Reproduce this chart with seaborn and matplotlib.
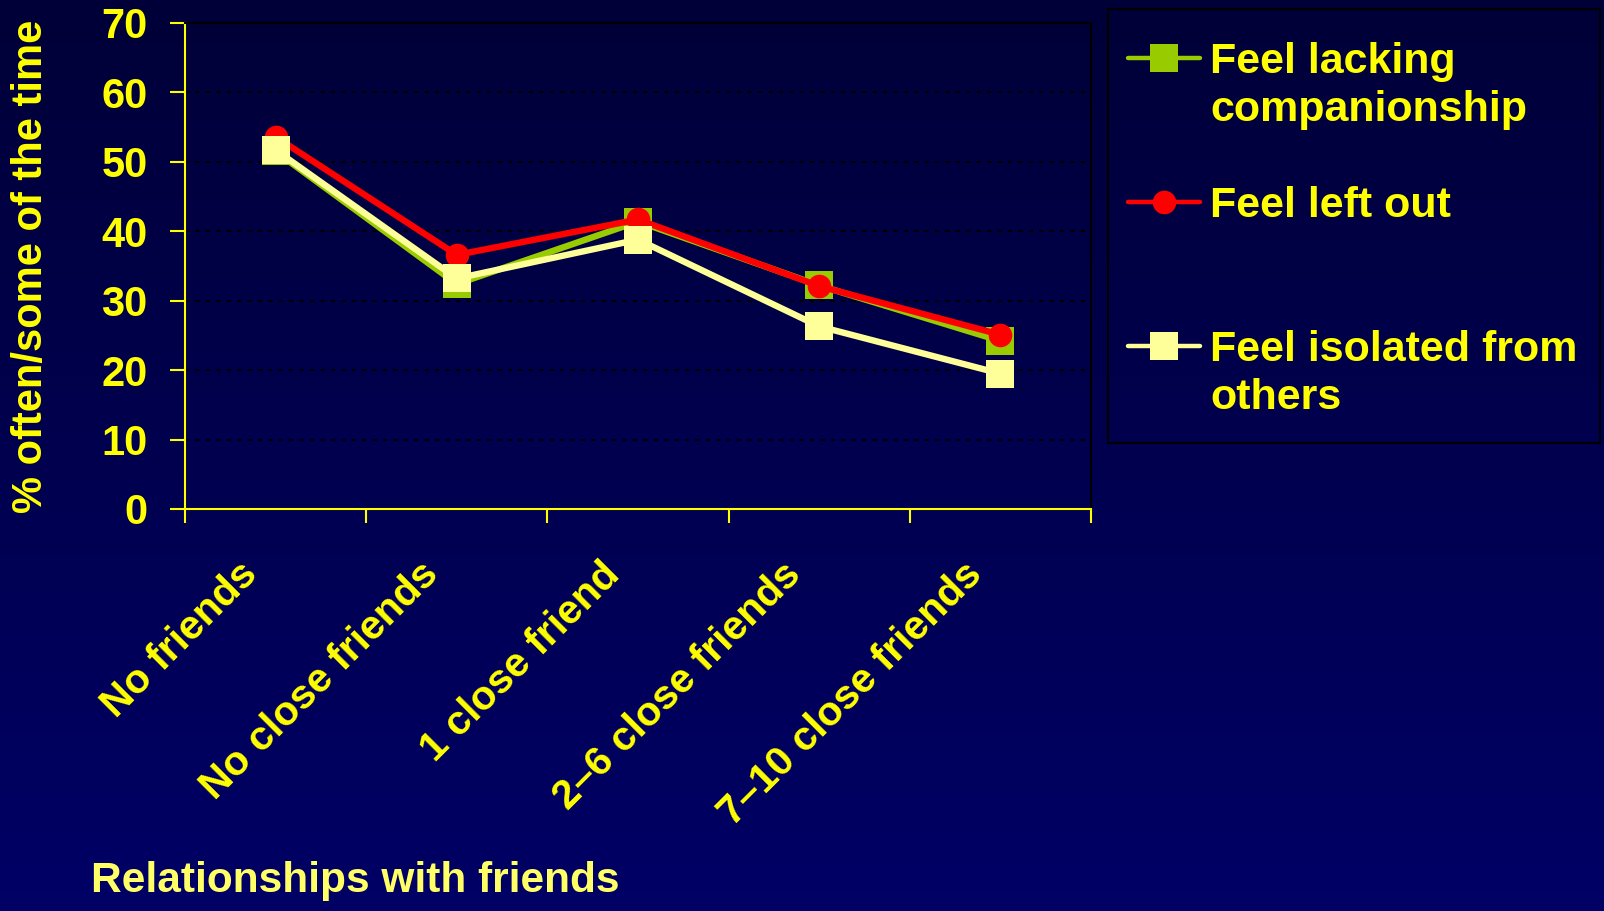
import numpy as np
import matplotlib
matplotlib.use("Agg")
import matplotlib.pyplot as plt
import matplotlib.transforms as mtransforms
from matplotlib.lines import Line2D
from matplotlib.patches import Rectangle
from matplotlib.ticker import FixedLocator
import seaborn as sns

# ---- data -------------------------------------------------------------
categories = ["No friends", "No close friends", "1 close friend",
              "2\u20136 close friends", "7\u201310 close friends"]
series_names = ["Feel lacking\ncompanionship", "Feel left out",
                "Feel isolated from\nothers"]
lacking_companionship = [51.5, 32.4, 41.4, 32.2, 24.2]
left_out = [53.6, 36.6, 41.7, 32.1, 25.1]
isolated = [51.7, 33.2, 38.8, 26.3, 19.5]
y_ticks = [0, 10, 20, 30, 40, 50, 60, 70]
y_label = "% often/some of the time"
x_label = "Relationships with friends"

# ---- style ------------------------------------------------------------
series_values = [lacking_companionship, left_out, isolated]
colors = ["#99cc00", "#ff0000", "#ffff99"]
markers = ["s", "o", "s"]
marker_sizes = [19.5, 17, 19.5]
LINE_W = 4.6
TEXT = "#ffff00"
LABEL = "#ffff66"

sns.set_style("white")
plt.rcParams["font.family"] = ["Liberation Sans", "DejaVu Sans"]
plt.rcParams["font.weight"] = "bold"
plt.rcParams["axes.labelweight"] = "bold"

W, H = 1604, 911
fig = plt.figure(figsize=(W / 100, H / 100), dpi=100)

# dark navy gradient backdrop
bg = fig.add_axes([0, 0, 1, 1], zorder=-10)
grad = np.linspace(0, 1, 256).reshape(-1, 1)
top_c = np.array([0x00, 0x00, 0x38]) / 255
bot_c = np.array([0x00, 0x00, 0x66]) / 255
img = top_c[None, None, :] * (1 - grad[:, :, None]) + bot_c[None, None, :] * grad[:, :, None]
bg.imshow(img, aspect="auto", extent=[0, 1, 0, 1], origin="upper")
bg.set_axis_off()

# plot area in pixel terms
ax_left, ax_right, ax_top, ax_bottom = 185, 1091, 23, 509
ax = fig.add_axes([ax_left / W, (H - ax_bottom) / H,
                   (ax_right - ax_left) / W, (ax_bottom - ax_top) / H])
ax.set_facecolor("none")

for vals, c, m, ms in zip(series_values, colors, markers, marker_sizes):
    sns.lineplot(x=categories, y=vals, ax=ax, color=c, marker=m,
                 markersize=ms, markeredgewidth=0, linewidth=LINE_W,
                 sort=False)
for ln in ax.lines:
    ln.set_linewidth(LINE_W)
    ln.set_solid_joinstyle("round")

ax.set_xlim(-0.5, len(categories) - 0.5)
ax.set_ylim(y_ticks[0], y_ticks[-1])
ax.set_yticks(y_ticks)
ax.set_xticks(range(len(categories)))
ax.set_xticklabels(categories, rotation=45, ha="right", va="top",
                   rotation_mode="anchor", fontsize=29.5, color=TEXT,
                   fontweight="bold")
ax.xaxis.set_minor_locator(FixedLocator(np.arange(-0.5, len(categories), 1.0)))

ax.tick_params(axis="x", which="major", bottom=True, length=0, pad=33)
ax.tick_params(axis="x", which="minor", bottom=True, length=10, width=1.5,
               color=TEXT, direction="out")
ax.tick_params(axis="y", which="major", left=True, length=10.8, width=1.5,
               color=TEXT, direction="out", pad=16, labelsize=30,
               labelcolor=TEXT)

shift = mtransforms.ScaledTranslation(-38 / 100, 0, fig.dpi_scale_trans)
for lab in ax.get_xticklabels():
    lab.set_transform(lab.get_transform() + shift)

ax.yaxis.grid(True, color="black", linestyle=(0, (2, 3)), linewidth=1.5)
ax.xaxis.grid(False)
ax.set_axisbelow(True)

for side in ("left", "bottom"):
    ax.spines[side].set_color(TEXT)
    ax.spines[side].set_linewidth(1.5)
for side in ("top", "right"):
    ax.spines[side].set_color("black")
    ax.spines[side].set_linewidth(1.5)

ax.set_ylabel(y_label, fontsize=30, color=TEXT, va="center",
              fontweight="bold")
ax.yaxis.set_label_coords((31 - ax_left) / (ax_right - ax_left), 0.5)
ax.set_xlabel(x_label, fontsize=30.5, color=LABEL, ha="left", va="center",
              fontweight="bold")
ax.xaxis.set_label_coords((91 - ax_left) / (ax_right - ax_left),
                          -(881 - ax_bottom) / (ax_bottom - ax_top))

# ---- legend box ---------------------------------------------------------
def fx(px):
    return px / W


def fy(py):
    return (H - py) / H


fig.add_artist(Rectangle((fx(1108), fy(443)), fx(1600) - fx(1108),
                         fy(9) - fy(443), transform=fig.transFigure,
                         facecolor="none", edgecolor="black", linewidth=1.5))

first_baseline = 73
entry_gap = 144
line_gap = 48
for i, (name, c, m, ms) in enumerate(zip(series_names, colors, markers, marker_sizes)):
    base = first_baseline + i * entry_gap
    hy = fy(base - 15)
    fig.add_artist(Line2D([fx(1128), fx(1164), fx(1200)], [hy, hy, hy],
                          transform=fig.transFigure, color=c, linewidth=3.2,
                          solid_capstyle="round", marker=m, markersize=ms,
                          markeredgewidth=0, markevery=[1]))
    for j, line in enumerate(name.split("\n")):
        fig.text(fx(1210), fy(base + j * line_gap), line, fontsize=31,
                 color=TEXT, ha="left", va="baseline")

fig.savefig("out.png", dpi=100)
